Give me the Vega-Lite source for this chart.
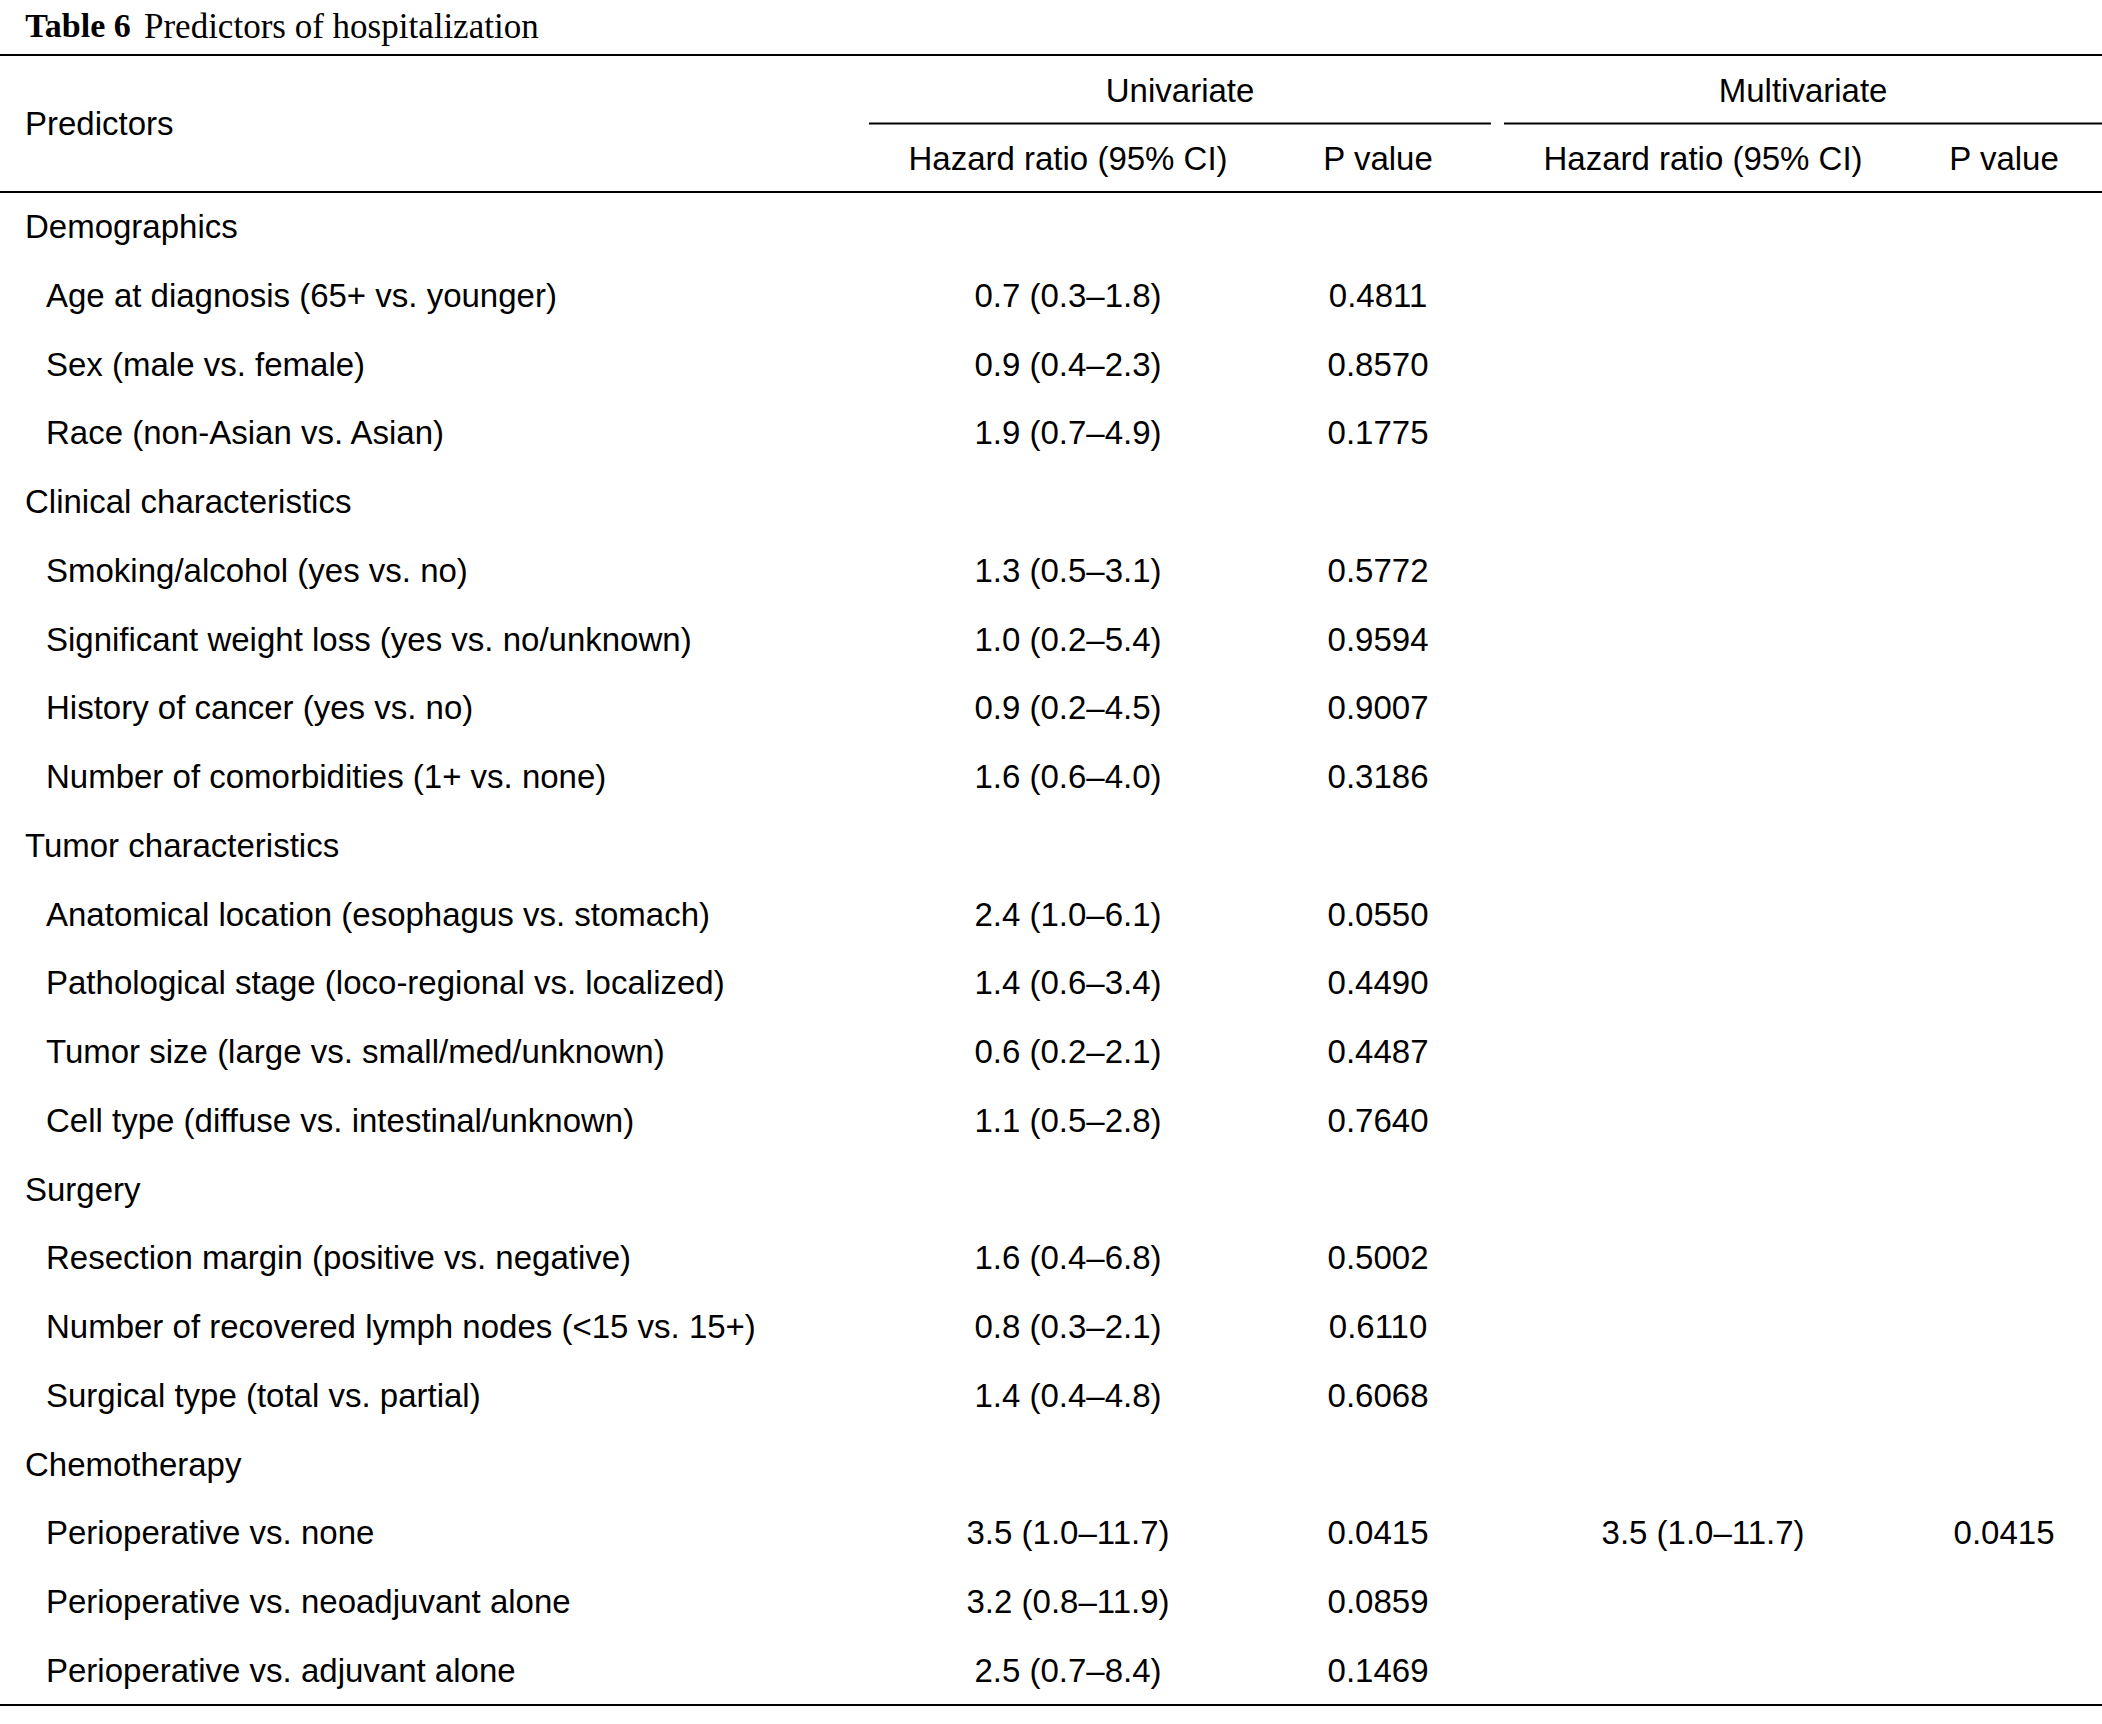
{
  "$schema": "https://vega.github.io/schema/vega-lite/v6.json",
  "width": 2102,
  "height": 1724,
  "autosize": {"type": "none"},
  "padding": 0,
  "background": "white",
  "config": {
    "view": {"stroke": null},
    "text": {"font": "Liberation Sans", "fontSize": 33, "color": "black", "baseline": "middle"},
    "rule": {"color": "black", "strokeWidth": 2}
  },
  "datasets": {
    "rows": [
      {"row": 1, "level": 0, "label": "Demographics"},
      {"row": 2, "level": 1, "label": "Age at diagnosis (65+ vs. younger)", "uhr": "0.7 (0.3–1.8)", "up": "0.4811"},
      {"row": 3, "level": 1, "label": "Sex (male vs. female)", "uhr": "0.9 (0.4–2.3)", "up": "0.8570"},
      {"row": 4, "level": 1, "label": "Race (non-Asian vs. Asian)", "uhr": "1.9 (0.7–4.9)", "up": "0.1775"},
      {"row": 5, "level": 0, "label": "Clinical characteristics"},
      {"row": 6, "level": 1, "label": "Smoking/alcohol (yes vs. no)", "uhr": "1.3 (0.5–3.1)", "up": "0.5772"},
      {"row": 7, "level": 1, "label": "Significant weight loss (yes vs. no/unknown)", "uhr": "1.0 (0.2–5.4)", "up": "0.9594"},
      {"row": 8, "level": 1, "label": "History of cancer (yes vs. no)", "uhr": "0.9 (0.2–4.5)", "up": "0.9007"},
      {"row": 9, "level": 1, "label": "Number of comorbidities (1+ vs. none)", "uhr": "1.6 (0.6–4.0)", "up": "0.3186"},
      {"row": 10, "level": 0, "label": "Tumor characteristics"},
      {"row": 11, "level": 1, "label": "Anatomical location (esophagus vs. stomach)", "uhr": "2.4 (1.0–6.1)", "up": "0.0550"},
      {"row": 12, "level": 1, "label": "Pathological stage (loco-regional vs. localized)", "uhr": "1.4 (0.6–3.4)", "up": "0.4490"},
      {"row": 13, "level": 1, "label": "Tumor size (large vs. small/med/unknown)", "uhr": "0.6 (0.2–2.1)", "up": "0.4487"},
      {"row": 14, "level": 1, "label": "Cell type (diffuse vs. intestinal/unknown)", "uhr": "1.1 (0.5–2.8)", "up": "0.7640"},
      {"row": 15, "level": 0, "label": "Surgery"},
      {"row": 16, "level": 1, "label": "Resection margin (positive vs. negative)", "uhr": "1.6 (0.4–6.8)", "up": "0.5002"},
      {"row": 17, "level": 1, "label": "Number of recovered lymph nodes (<15 vs. 15+)", "uhr": "0.8 (0.3–2.1)", "up": "0.6110"},
      {"row": 18, "level": 1, "label": "Surgical type (total vs. partial)", "uhr": "1.4 (0.4–4.8)", "up": "0.6068"},
      {"row": 19, "level": 0, "label": "Chemotherapy"},
      {"row": 20, "level": 1, "label": "Perioperative vs. none", "uhr": "3.5 (1.0–11.7)", "up": "0.0415", "mhr": "3.5 (1.0–11.7)", "mp": "0.0415"},
      {"row": 21, "level": 1, "label": "Perioperative vs. neoadjuvant alone", "uhr": "3.2 (0.8–11.9)", "up": "0.0859"},
      {"row": 22, "level": 1, "label": "Perioperative vs. adjuvant alone", "uhr": "2.5 (0.7–8.4)", "up": "0.1469"}
    ]
  },
  "layer": [
    {
      "data": {"values": [{"t": "Table 6"}]},
      "mark": {"type": "text", "align": "left", "font": "Liberation Serif", "fontSize": 34, "fontWeight": "bold"},
      "encoding": {
        "x": {"datum": 1.2, "type": "quantitative", "scale": {"domain": [0, 100], "nice": false, "zero": false}, "axis": null},
        "y": {"datum": -1.93, "type": "quantitative", "scale": {"domain": [-2.3159, 22.7568], "reverse": true, "nice": false, "zero": false}, "axis": null},
        "text": {"field": "t"}
      }
    },
    {
      "data": {"values": [{"t": "Predictors of hospitalization"}]},
      "mark": {"type": "text", "align": "left", "font": "Liberation Serif", "fontSize": 35},
      "encoding": {
        "x": {"datum": 6.85, "type": "quantitative", "scale": {"domain": [0, 100], "nice": false, "zero": false}, "axis": null},
        "y": {"datum": -1.93, "type": "quantitative", "scale": {"domain": [-2.3159, 22.7568], "reverse": true, "nice": false, "zero": false}, "axis": null},
        "text": {"field": "t"}
      }
    },
    {
      "data": {"values": [{"y": -1.516}, {"y": 0.476}, {"y": 22.48}]},
      "mark": {"type": "rule"},
      "encoding": {
        "y": {"field": "y", "type": "quantitative", "scale": {"domain": [-2.3159, 22.7568], "reverse": true, "nice": false, "zero": false}, "axis": null}
      }
    },
    {
      "data": {"values": [{"a": 41.34, "b": 70.93}, {"a": 71.55, "b": 100}]},
      "mark": {"type": "rule"},
      "encoding": {
        "x": {"field": "a", "type": "quantitative", "scale": {"domain": [0, 100], "nice": false, "zero": false}, "axis": null},
        "x2": {"field": "b"},
        "y": {"datum": -0.52, "type": "quantitative", "scale": {"domain": [-2.3159, 22.7568], "reverse": true, "nice": false, "zero": false}, "axis": null}
      }
    },
    {
      "data": {"values": [{"t": "Predictors"}]},
      "mark": {"type": "text", "align": "left"},
      "encoding": {
        "x": {"datum": 1.189, "type": "quantitative", "scale": {"domain": [0, 100], "nice": false, "zero": false}, "axis": null},
        "y": {"datum": -0.492, "type": "quantitative", "scale": {"domain": [-2.3159, 22.7568], "reverse": true, "nice": false, "zero": false}, "axis": null},
        "text": {"field": "t"}
      }
    },
    {
      "data": {"values": [{"t": "Univariate", "p": 56.14}, {"t": "Multivariate", "p": 85.78}]},
      "mark": {"type": "text", "align": "center"},
      "encoding": {
        "x": {"field": "p", "type": "quantitative", "scale": {"domain": [0, 100], "nice": false, "zero": false}, "axis": null},
        "y": {"datum": -0.985, "type": "quantitative", "scale": {"domain": [-2.3159, 22.7568], "reverse": true, "nice": false, "zero": false}, "axis": null},
        "text": {"field": "t"}
      }
    },
    {
      "data": {"values": [
        {"t": "Hazard ratio (95% CI)", "p": 50.81},
        {"t": "P value", "p": 65.56},
        {"t": "Hazard ratio (95% CI)", "p": 81.02},
        {"t": "P value", "p": 95.34}
      ]},
      "mark": {"type": "text", "align": "center"},
      "encoding": {
        "x": {"field": "p", "type": "quantitative", "scale": {"domain": [0, 100], "nice": false, "zero": false}, "axis": null},
        "y": {"datum": 0.017, "type": "quantitative", "scale": {"domain": [-2.3159, 22.7568], "reverse": true, "nice": false, "zero": false}, "axis": null},
        "text": {"field": "t"}
      }
    },
    {
      "data": {"name": "rows"},
      "transform": [{"filter": "datum.level == 0"}],
      "mark": {"type": "text", "align": "left"},
      "encoding": {
        "x": {"datum": 1.189, "type": "quantitative", "scale": {"domain": [0, 100], "nice": false, "zero": false}, "axis": null},
        "y": {"field": "row", "type": "quantitative", "scale": {"domain": [-2.3159, 22.7568], "reverse": true, "nice": false, "zero": false}, "axis": null},
        "text": {"field": "label"}
      }
    },
    {
      "data": {"name": "rows"},
      "transform": [{"filter": "datum.level == 1"}],
      "mark": {"type": "text", "align": "left"},
      "encoding": {
        "x": {"datum": 2.188, "type": "quantitative", "scale": {"domain": [0, 100], "nice": false, "zero": false}, "axis": null},
        "y": {"field": "row", "type": "quantitative", "scale": {"domain": [-2.3159, 22.7568], "reverse": true, "nice": false, "zero": false}, "axis": null},
        "text": {"field": "label"}
      }
    },
    {
      "data": {"name": "rows"},
      "transform": [{"filter": "isValid(datum.uhr)"}],
      "mark": {"type": "text", "align": "center"},
      "encoding": {
        "x": {"datum": 50.81, "type": "quantitative", "scale": {"domain": [0, 100], "nice": false, "zero": false}, "axis": null},
        "y": {"field": "row", "type": "quantitative", "scale": {"domain": [-2.3159, 22.7568], "reverse": true, "nice": false, "zero": false}, "axis": null},
        "text": {"field": "uhr"}
      }
    },
    {
      "data": {"name": "rows"},
      "transform": [{"filter": "isValid(datum.up)"}],
      "mark": {"type": "text", "align": "center"},
      "encoding": {
        "x": {"datum": 65.56, "type": "quantitative", "scale": {"domain": [0, 100], "nice": false, "zero": false}, "axis": null},
        "y": {"field": "row", "type": "quantitative", "scale": {"domain": [-2.3159, 22.7568], "reverse": true, "nice": false, "zero": false}, "axis": null},
        "text": {"field": "up"}
      }
    },
    {
      "data": {"name": "rows"},
      "transform": [{"filter": "isValid(datum.mhr)"}],
      "mark": {"type": "text", "align": "center"},
      "encoding": {
        "x": {"datum": 81.02, "type": "quantitative", "scale": {"domain": [0, 100], "nice": false, "zero": false}, "axis": null},
        "y": {"field": "row", "type": "quantitative", "scale": {"domain": [-2.3159, 22.7568], "reverse": true, "nice": false, "zero": false}, "axis": null},
        "text": {"field": "mhr"}
      }
    },
    {
      "data": {"name": "rows"},
      "transform": [{"filter": "isValid(datum.mp)"}],
      "mark": {"type": "text", "align": "center"},
      "encoding": {
        "x": {"datum": 95.34, "type": "quantitative", "scale": {"domain": [0, 100], "nice": false, "zero": false}, "axis": null},
        "y": {"field": "row", "type": "quantitative", "scale": {"domain": [-2.3159, 22.7568], "reverse": true, "nice": false, "zero": false}, "axis": null},
        "text": {"field": "mp"}
      }
    }
  ]
}
